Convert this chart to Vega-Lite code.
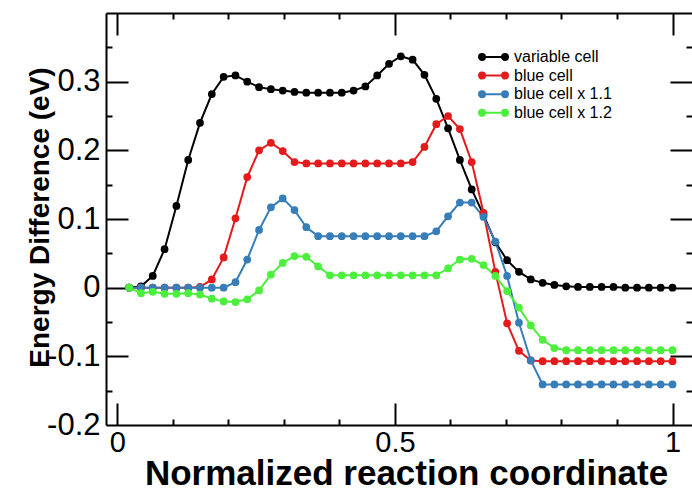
{
  "$schema": "https://vega.github.io/schema/vega-lite/v6.json",
  "width": 586,
  "height": 412,
  "autosize": "none",
  "padding": {"left": 106, "top": 13, "right": 0, "bottom": 65},
  "background": "white",
  "config": {
    "view": {"stroke": null},
    "font": "Liberation Sans",
    "axis": {"grid": false, "labelColor": "#000", "titleColor": "#000", "domainColor": "#000", "tickColor": "#000", "domainWidth": 2, "tickWidth": 2, "labelFont": "Liberation Sans", "titleFont": "Liberation Sans"}
  },
  "data": {"values": [
    {"s":"variable cell","x":0.0213,"y":0},{"s":"variable cell","x":0.0426,"y":0.002},{"s":"variable cell","x":0.0638,"y":0.017},{"s":"variable cell","x":0.0851,"y":0.056},{"s":"variable cell","x":0.1064,"y":0.119},{"s":"variable cell","x":0.1277,"y":0.186},{"s":"variable cell","x":0.1489,"y":0.24},{"s":"variable cell","x":0.1702,"y":0.282},{"s":"variable cell","x":0.1915,"y":0.307},{"s":"variable cell","x":0.2128,"y":0.309},{"s":"variable cell","x":0.234,"y":0.3},{"s":"variable cell","x":0.2553,"y":0.292},{"s":"variable cell","x":0.2766,"y":0.289},{"s":"variable cell","x":0.2979,"y":0.287},{"s":"variable cell","x":0.3191,"y":0.285},{"s":"variable cell","x":0.3404,"y":0.284},{"s":"variable cell","x":0.3617,"y":0.284},{"s":"variable cell","x":0.383,"y":0.284},{"s":"variable cell","x":0.4043,"y":0.284},{"s":"variable cell","x":0.4255,"y":0.287},{"s":"variable cell","x":0.4468,"y":0.293},{"s":"variable cell","x":0.4681,"y":0.309},{"s":"variable cell","x":0.4894,"y":0.326},{"s":"variable cell","x":0.5106,"y":0.337},{"s":"variable cell","x":0.5319,"y":0.332},{"s":"variable cell","x":0.5532,"y":0.31},{"s":"variable cell","x":0.5745,"y":0.275},{"s":"variable cell","x":0.5957,"y":0.232},{"s":"variable cell","x":0.617,"y":0.186},{"s":"variable cell","x":0.6383,"y":0.143},{"s":"variable cell","x":0.6596,"y":0.106},{"s":"variable cell","x":0.6809,"y":0.066},{"s":"variable cell","x":0.7021,"y":0.04},{"s":"variable cell","x":0.7234,"y":0.023},{"s":"variable cell","x":0.7447,"y":0.012},{"s":"variable cell","x":0.766,"y":0.007},{"s":"variable cell","x":0.7872,"y":0.004},{"s":"variable cell","x":0.8085,"y":0.002},{"s":"variable cell","x":0.8298,"y":0.001},{"s":"variable cell","x":0.8511,"y":0.001},{"s":"variable cell","x":0.8723,"y":0.001},{"s":"variable cell","x":0.8936,"y":0.001},{"s":"variable cell","x":0.9149,"y":0.0},{"s":"variable cell","x":0.9362,"y":0.0},{"s":"variable cell","x":0.9574,"y":0.0},{"s":"variable cell","x":0.9787,"y":0.0},{"s":"variable cell","x":1.0,"y":0.0},
    {"s":"blue cell","x":0.0213,"y":0},{"s":"blue cell","x":0.0426,"y":0},{"s":"blue cell","x":0.0638,"y":0},{"s":"blue cell","x":0.0851,"y":0},{"s":"blue cell","x":0.1064,"y":0},{"s":"blue cell","x":0.1277,"y":0},{"s":"blue cell","x":0.1489,"y":0.001},{"s":"blue cell","x":0.1702,"y":0.012},{"s":"blue cell","x":0.1915,"y":0.044},{"s":"blue cell","x":0.2128,"y":0.101},{"s":"blue cell","x":0.234,"y":0.161},{"s":"blue cell","x":0.2553,"y":0.2},{"s":"blue cell","x":0.2766,"y":0.211},{"s":"blue cell","x":0.2979,"y":0.199},{"s":"blue cell","x":0.3191,"y":0.183},{"s":"blue cell","x":0.3404,"y":0.181},{"s":"blue cell","x":0.3617,"y":0.181},{"s":"blue cell","x":0.383,"y":0.181},{"s":"blue cell","x":0.4043,"y":0.181},{"s":"blue cell","x":0.4255,"y":0.181},{"s":"blue cell","x":0.4468,"y":0.181},{"s":"blue cell","x":0.4681,"y":0.181},{"s":"blue cell","x":0.4894,"y":0.181},{"s":"blue cell","x":0.5106,"y":0.181},{"s":"blue cell","x":0.5319,"y":0.183},{"s":"blue cell","x":0.5532,"y":0.205},{"s":"blue cell","x":0.5745,"y":0.238},{"s":"blue cell","x":0.5957,"y":0.25},{"s":"blue cell","x":0.617,"y":0.231},{"s":"blue cell","x":0.6383,"y":0.183},{"s":"blue cell","x":0.6596,"y":0.109},{"s":"blue cell","x":0.6809,"y":0.023},{"s":"blue cell","x":0.7021,"y":-0.052},{"s":"blue cell","x":0.7234,"y":-0.092},{"s":"blue cell","x":0.7447,"y":-0.106},{"s":"blue cell","x":0.766,"y":-0.107},{"s":"blue cell","x":0.7872,"y":-0.107},{"s":"blue cell","x":0.8085,"y":-0.107},{"s":"blue cell","x":0.8298,"y":-0.107},{"s":"blue cell","x":0.8511,"y":-0.107},{"s":"blue cell","x":0.8723,"y":-0.107},{"s":"blue cell","x":0.8936,"y":-0.107},{"s":"blue cell","x":0.9149,"y":-0.107},{"s":"blue cell","x":0.9362,"y":-0.107},{"s":"blue cell","x":0.9574,"y":-0.107},{"s":"blue cell","x":0.9787,"y":-0.107},{"s":"blue cell","x":1.0,"y":-0.107},
    {"s":"blue cell x 1.1","x":0.0213,"y":0},{"s":"blue cell x 1.1","x":0.0426,"y":0},{"s":"blue cell x 1.1","x":0.0638,"y":0},{"s":"blue cell x 1.1","x":0.0851,"y":0},{"s":"blue cell x 1.1","x":0.1064,"y":0},{"s":"blue cell x 1.1","x":0.1277,"y":0},{"s":"blue cell x 1.1","x":0.1489,"y":0},{"s":"blue cell x 1.1","x":0.1702,"y":0},{"s":"blue cell x 1.1","x":0.1915,"y":0},{"s":"blue cell x 1.1","x":0.2128,"y":0.008},{"s":"blue cell x 1.1","x":0.234,"y":0.041},{"s":"blue cell x 1.1","x":0.2553,"y":0.084},{"s":"blue cell x 1.1","x":0.2766,"y":0.117},{"s":"blue cell x 1.1","x":0.2979,"y":0.13},{"s":"blue cell x 1.1","x":0.3191,"y":0.113},{"s":"blue cell x 1.1","x":0.3404,"y":0.088},{"s":"blue cell x 1.1","x":0.3617,"y":0.075},{"s":"blue cell x 1.1","x":0.383,"y":0.075},{"s":"blue cell x 1.1","x":0.4043,"y":0.075},{"s":"blue cell x 1.1","x":0.4255,"y":0.075},{"s":"blue cell x 1.1","x":0.4468,"y":0.075},{"s":"blue cell x 1.1","x":0.4681,"y":0.075},{"s":"blue cell x 1.1","x":0.4894,"y":0.075},{"s":"blue cell x 1.1","x":0.5106,"y":0.075},{"s":"blue cell x 1.1","x":0.5319,"y":0.075},{"s":"blue cell x 1.1","x":0.5532,"y":0.075},{"s":"blue cell x 1.1","x":0.5745,"y":0.082},{"s":"blue cell x 1.1","x":0.5957,"y":0.104},{"s":"blue cell x 1.1","x":0.617,"y":0.124},{"s":"blue cell x 1.1","x":0.6383,"y":0.124},{"s":"blue cell x 1.1","x":0.6596,"y":0.103},{"s":"blue cell x 1.1","x":0.6809,"y":0.067},{"s":"blue cell x 1.1","x":0.7021,"y":0.017},{"s":"blue cell x 1.1","x":0.7234,"y":-0.051},{"s":"blue cell x 1.1","x":0.7447,"y":-0.106},{"s":"blue cell x 1.1","x":0.766,"y":-0.141},{"s":"blue cell x 1.1","x":0.7872,"y":-0.141},{"s":"blue cell x 1.1","x":0.8085,"y":-0.141},{"s":"blue cell x 1.1","x":0.8298,"y":-0.141},{"s":"blue cell x 1.1","x":0.8511,"y":-0.141},{"s":"blue cell x 1.1","x":0.8723,"y":-0.141},{"s":"blue cell x 1.1","x":0.8936,"y":-0.141},{"s":"blue cell x 1.1","x":0.9149,"y":-0.141},{"s":"blue cell x 1.1","x":0.9362,"y":-0.141},{"s":"blue cell x 1.1","x":0.9574,"y":-0.141},{"s":"blue cell x 1.1","x":0.9787,"y":-0.141},{"s":"blue cell x 1.1","x":1.0,"y":-0.141},
    {"s":"blue cell x 1.2","x":0.0213,"y":0},{"s":"blue cell x 1.2","x":0.0426,"y":-0.008},{"s":"blue cell x 1.2","x":0.0638,"y":-0.006},{"s":"blue cell x 1.2","x":0.0851,"y":-0.009},{"s":"blue cell x 1.2","x":0.1064,"y":-0.009},{"s":"blue cell x 1.2","x":0.1277,"y":-0.008},{"s":"blue cell x 1.2","x":0.1489,"y":-0.01},{"s":"blue cell x 1.2","x":0.1702,"y":-0.016},{"s":"blue cell x 1.2","x":0.1915,"y":-0.02},{"s":"blue cell x 1.2","x":0.2128,"y":-0.021},{"s":"blue cell x 1.2","x":0.234,"y":-0.017},{"s":"blue cell x 1.2","x":0.2553,"y":-0.004},{"s":"blue cell x 1.2","x":0.2766,"y":0.019},{"s":"blue cell x 1.2","x":0.2979,"y":0.036},{"s":"blue cell x 1.2","x":0.3191,"y":0.046},{"s":"blue cell x 1.2","x":0.3404,"y":0.045},{"s":"blue cell x 1.2","x":0.3617,"y":0.031},{"s":"blue cell x 1.2","x":0.383,"y":0.018},{"s":"blue cell x 1.2","x":0.4043,"y":0.018},{"s":"blue cell x 1.2","x":0.4255,"y":0.018},{"s":"blue cell x 1.2","x":0.4468,"y":0.018},{"s":"blue cell x 1.2","x":0.4681,"y":0.018},{"s":"blue cell x 1.2","x":0.4894,"y":0.018},{"s":"blue cell x 1.2","x":0.5106,"y":0.018},{"s":"blue cell x 1.2","x":0.5319,"y":0.018},{"s":"blue cell x 1.2","x":0.5532,"y":0.018},{"s":"blue cell x 1.2","x":0.5745,"y":0.018},{"s":"blue cell x 1.2","x":0.5957,"y":0.028},{"s":"blue cell x 1.2","x":0.617,"y":0.041},{"s":"blue cell x 1.2","x":0.6383,"y":0.042},{"s":"blue cell x 1.2","x":0.6596,"y":0.033},{"s":"blue cell x 1.2","x":0.6809,"y":0.017},{"s":"blue cell x 1.2","x":0.7021,"y":-0.005},{"s":"blue cell x 1.2","x":0.7234,"y":-0.029},{"s":"blue cell x 1.2","x":0.7447,"y":-0.055},{"s":"blue cell x 1.2","x":0.766,"y":-0.076},{"s":"blue cell x 1.2","x":0.7872,"y":-0.088},{"s":"blue cell x 1.2","x":0.8085,"y":-0.091},{"s":"blue cell x 1.2","x":0.8298,"y":-0.091},{"s":"blue cell x 1.2","x":0.8511,"y":-0.091},{"s":"blue cell x 1.2","x":0.8723,"y":-0.091},{"s":"blue cell x 1.2","x":0.8936,"y":-0.091},{"s":"blue cell x 1.2","x":0.9149,"y":-0.091},{"s":"blue cell x 1.2","x":0.9362,"y":-0.091},{"s":"blue cell x 1.2","x":0.9574,"y":-0.091},{"s":"blue cell x 1.2","x":0.9787,"y":-0.091},{"s":"blue cell x 1.2","x":1.0,"y":-0.091}
  ]},
  "resolve": {"axis": {"x": "independent", "y": "independent"}},
  "layer": [
    {
      "mark": {"type": "line", "strokeWidth": 2},
      "encoding": {
        "x": {"field": "x", "type": "quantitative", "scale": {"domain": [-0.0204, 1.0351], "nice": false, "zero": false},
          "axis": {"orient": "bottom", "values": [0, 0.5, 1], "ticks": false, "tickSize": 0, "domain": true, "labelPadding": 3, "labelFontSize": 29, "labelExpr": "'' + datum.value", "title": "Normalized reaction coordinate", "titleFontSize": 35, "titleFontWeight": "bold", "titleBaseline": "alphabetic", "titleX": 300, "titleY": 59}},
        "y": {"field": "y", "type": "quantitative", "scale": {"domain": [-0.2, 0.4], "nice": false, "zero": false},
          "axis": {"orient": "left", "values": [-0.2, -0.1, 0, 0.1, 0.2, 0.3], "ticks": false, "tickSize": 0, "domain": true, "labelPadding": 6, "labelFontSize": 31, "labelExpr": "'' + datum.value", "title": "Energy Difference (eV)", "titleFontSize": 28, "titleFontWeight": "bold", "titleBaseline": "alphabetic", "titleX": -58, "titleY": 204}},
        "color": {"field": "s", "type": "nominal", "sort": ["variable cell", "blue cell", "blue cell x 1.1", "blue cell x 1.2"],
          "scale": {"domain": ["variable cell", "blue cell", "blue cell x 1.1", "blue cell x 1.2"], "range": ["#000000", "#e41a1c", "#377eb8", "#4cf03c"]},
          "legend": {"orient": "none", "legendX": 372, "legendY": 36, "title": null, "padding": 0,
            "symbolType": "M-1,0a0.207,0.207 0 1,0 0.414,0a0.207,0.207 0 1,0 -0.414,0M0.586,0a0.207,0.207 0 1,0 0.414,0a0.207,0.207 0 1,0 -0.414,0M-0.793,0L0.793,0",
            "symbolSize": 841, "symbolStrokeWidth": 2, "clipHeight": 16, "labelFontSize": 16, "labelFont": "Liberation Sans", "labelColor": "#000", "labelOffset": 5, "rowPadding": 2.6,
            "encode": {"symbols": {"update": {"fill": {"scale": "color", "field": "value"}, "stroke": {"scale": "color", "field": "value"}, "opacity": {"value": 1}}}}}}
      }
    },
    {
      "mark": {"type": "point", "filled": true, "size": 60, "opacity": 1},
      "encoding": {
        "x": {"field": "x", "type": "quantitative", "scale": {"domain": [-0.0204, 1.0351], "nice": false, "zero": false},
          "axis": {"orient": "bottom", "values": [0, 0.5, 1], "labels": false, "domain": false, "tickSize": -22, "title": null}},
        "y": {"field": "y", "type": "quantitative", "scale": {"domain": [-0.2, 0.4], "nice": false, "zero": false},
          "axis": {"orient": "left", "values": [-0.1, 0, 0.1, 0.2, 0.3], "labels": false, "domain": false, "tickSize": -22, "title": null}},
        "color": {"field": "s", "type": "nominal", "legend": null}
      }
    },
    {
      "mark": {"type": "point", "opacity": 0},
      "encoding": {
        "x": {"field": "x", "type": "quantitative", "scale": {"domain": [-0.0204, 1.0351], "nice": false, "zero": false},
          "axis": {"orient": "bottom", "values": [0.1, 0.2, 0.3, 0.4, 0.6, 0.7, 0.8, 0.9], "labels": false, "domain": false, "tickSize": -6, "title": null}},
        "y": {"field": "y", "type": "quantitative", "scale": {"domain": [-0.2, 0.4], "nice": false, "zero": false},
          "axis": {"orient": "left", "values": [-0.15, -0.05, 0.05, 0.15, 0.25, 0.35], "labels": false, "domain": false, "tickSize": -6, "title": null}}
      }
    },
    {
      "mark": {"type": "point", "opacity": 0},
      "encoding": {
        "x": {"field": "x", "type": "quantitative", "scale": {"domain": [-0.0204, 1.0351], "nice": false, "zero": false},
          "axis": {"orient": "top", "values": [0, 0.5, 1], "labels": false, "domain": true, "tickSize": -22, "title": null}},
        "y": {"field": "y", "type": "quantitative", "scale": {"domain": [-0.2, 0.4], "nice": false, "zero": false},
          "axis": {"orient": "right", "values": [-0.1, 0, 0.1, 0.2, 0.3], "labels": false, "domain": false, "tickSize": -22, "title": null}}
      }
    },
    {
      "mark": {"type": "point", "opacity": 0},
      "encoding": {
        "x": {"field": "x", "type": "quantitative", "scale": {"domain": [-0.0204, 1.0351], "nice": false, "zero": false},
          "axis": {"orient": "top", "values": [0.1, 0.2, 0.3, 0.4, 0.6, 0.7, 0.8, 0.9], "labels": false, "domain": false, "tickSize": -6, "title": null}},
        "y": {"field": "y", "type": "quantitative", "scale": {"domain": [-0.2, 0.4], "nice": false, "zero": false},
          "axis": {"orient": "right", "values": [-0.15, -0.05, 0.05, 0.15, 0.25, 0.35], "labels": false, "domain": false, "tickSize": -6, "title": null}}
      }
    }
  ]
}
